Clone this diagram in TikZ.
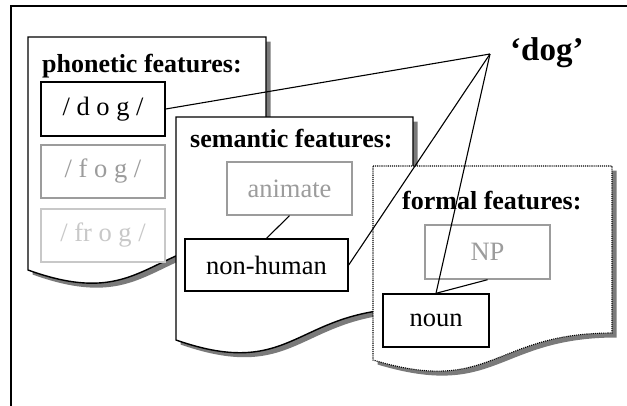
\documentclass[tikz,border=0pt]{standalone}
\usepackage{fontspec}
\setmainfont{Liberation Serif}
\definecolor{shadowgray}{HTML}{7A7A7A}
\definecolor{midgray}{HTML}{9C9C9C}
\definecolor{lightgray}{HTML}{C8C8C8}
\tikzset{
  docshape/.style={draw=black, line width=1.4pt, fill=white},
  docshadow/.style={fill=shadowgray, draw=none},
  headlabel/.style={anchor=base west, inner sep=0pt, font=\fontsize{26}{30}\selectfont\bfseries},
  featbox/.style={draw=black, line width=1.4pt, fill=white, inner sep=0pt,
    font=\fontsize{26.5}{30}\selectfont},
  greybox/.style={featbox, draw=midgray, text=midgray},
  palebox/.style={featbox, draw=lightgray, text=lightgray},
  link/.style={draw=black, line width=1.1pt},
}
\begin{document}
\begin{tikzpicture}[x=1pt, y=-1pt]
\useasboundingbox (0,0) rectangle (627,405);
\clip (0,0) rectangle (627,405);
\fill[white] (0,0) rectangle (627,405);
% outer frame
\draw[line width=1.8pt] (11,420) -- (11,6) -- (640,6);

% phonetic document
\fill[docshadow, xshift=4.5pt, yshift=-4.5pt]
  (28,37) -- (266,37) -- (266,237) .. controls (147,237) and (147,313) .. (28,270) -- cycle;
\draw[docshape]
  (28,37) -- (266,37) -- (266,237) .. controls (147,237) and (147,313) .. (28,270) -- cycle;
\node[headlabel] (phonhead) at (42,72) {phonetic features:};
\node[featbox, minimum width=124pt, minimum height=54pt] (dog) at (103,109) {/ d o g /};
\node[greybox, minimum width=124pt, minimum height=53pt] (fog) at (103,171.5) {/ f o g /};
\node[palebox, minimum width=124pt, minimum height=53pt] (frog) at (103,235.5) {/ fr o g /};

% semantic document
\fill[docshadow, xshift=4.5pt, yshift=-4.5pt]
  (176,117) -- (413,117) -- (413,308.5) .. controls (294.5,308.5) and (294.5,381.4) .. (176,340) -- cycle;
\draw[docshape]
  (176,117) -- (413,117) -- (413,308.5) .. controls (294.5,308.5) and (294.5,381.4) .. (176,340) -- cycle;
\node[headlabel] (semhead) at (190,147) {semantic features:};
\node[greybox, minimum width=125pt, minimum height=53pt] (animate) at (289.5,188.5) {animate};
\node[featbox, minimum width=163pt, minimum height=52pt] (nonhuman) at (266.5,265) {non-human};

% formal document
\fill[docshadow, xshift=4.5pt, yshift=-4.5pt]
  (373,166) -- (612,166) -- (612,333) .. controls (492.5,333) and (492.5,396) .. (373,360) -- cycle;
\fill[white]
  (373,166) -- (612,166) -- (612,333) .. controls (492.5,333) and (492.5,396) .. (373,360) -- cycle;
\draw[line width=1.1pt, densely dotted]
  (373,166) -- (612,166) -- (612,333) .. controls (492.5,333) and (492.5,396) .. (373,360) -- cycle;
\node[headlabel] (formhead) at (402,209) {formal features:};
\node[greybox, minimum width=125pt, minimum height=54pt] (np) at (487.5,252) {NP};
\node[featbox, minimum width=106pt, minimum height=53pt] (noun) at (436,320.5) {noun};

% links between the features
\draw[link] (animate.south) -- (nonhuman.north);
\draw[link] (np.south) -- (noun.north);

% the word and its links
\coordinate (dogpt) at (490,54);
\node[anchor=base west, inner sep=0pt, font=\fontsize{33}{36}\selectfont\bfseries] (word) at (510,60) {‘dog’};
\draw[link] (dogpt) -- (dog.east);
\draw[link] (dogpt) -- (nonhuman.east);
\draw[link] (dogpt) -- (noun.north);
\end{tikzpicture}
\end{document}
